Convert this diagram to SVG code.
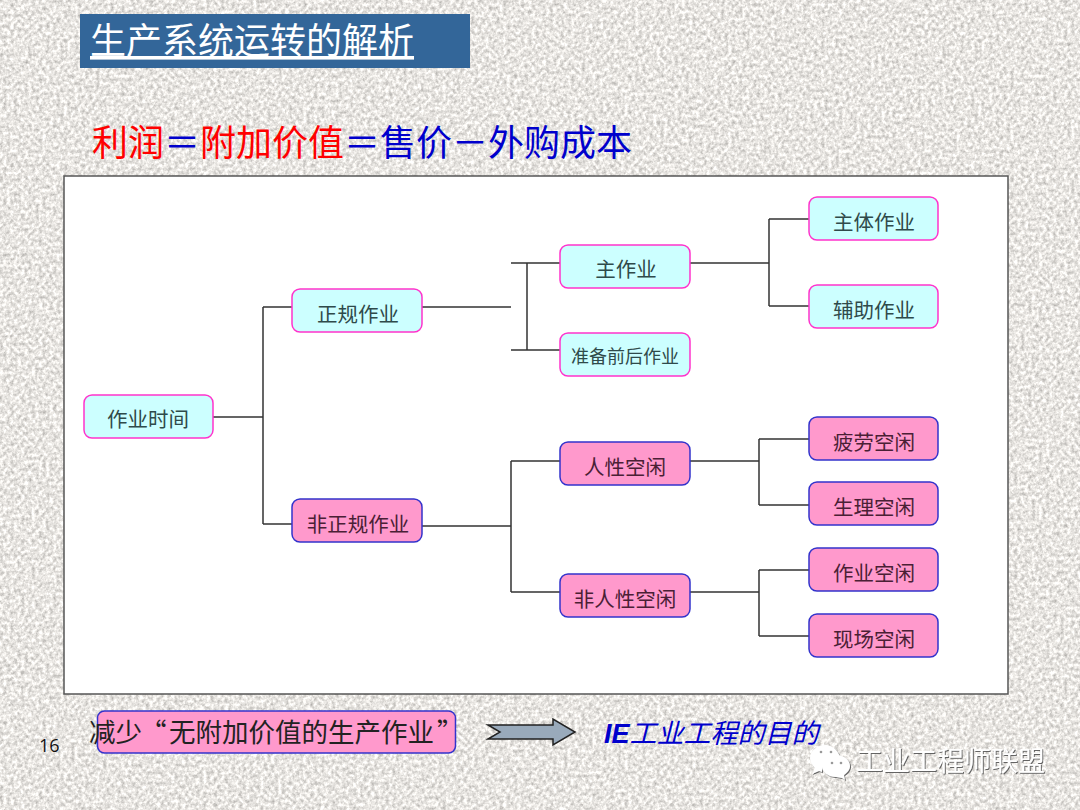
<svg xmlns="http://www.w3.org/2000/svg" width="1080" height="810" viewBox="0 0 1080 810">
<style>
text{font-family:"Noto Sans CJK SC","Liberation Sans",sans-serif}
.n rect{stroke-width:1.5}
.c rect{fill:#ccffff;stroke:#ff33cc}
.p rect{fill:#ff99cc;stroke:#3333cc}
.n text{font-size:20.500px;fill:#333;text-anchor:middle}
.c text{fill:#2f4a4a}
.p text{fill:#4a2035}
#connectors path{fill:none;stroke:#333;stroke-width:1.5}
</style>
<defs>
<filter id="tex2" x="0" y="0" width="100%" height="100%" color-interpolation-filters="sRGB">
<feTurbulence type="fractalNoise" baseFrequency="0.28" numOctaves="4" seed="9"/>
<feColorMatrix type="matrix" values="0.5 0 0 0 0.66  0.5 0 0 0 0.65  0.5 0 0 0 0.635  0 0 0 0 1"/>
</filter>
<filter id="sh" x="-10%" y="-20%" width="120%" height="140%">
<feDropShadow dx="1" dy="1" stdDeviation="0.6" flood-color="#555" flood-opacity="0.9"/>
</filter>
</defs>
<rect id="background" width="1080" height="810" fill="#d8d7d5" filter="url(#tex2)"/>

<g id="title">
<rect x="80" y="14" width="390" height="54" fill="#336699"/>
<text x="90" y="54" font-size="36" fill="#fff" text-decoration="underline">生产系统运转的解析</text>
</g>
<text id="formula" x="92" y="156" font-size="36" fill="#0000cc"><tspan fill="#ff0000">利润</tspan>＝<tspan fill="#ff0000">附加价值</tspan>＝售价－外购成本</text>

<rect id="panel" x="64" y="176" width="944" height="518" fill="#fff" stroke="#555" stroke-width="1.5"/>

<g id="connectors">
<path d="M213 417H263M263 307V524M263 307H292M263 524H292"/>
<path d="M422 307H511M511 263H560M511 350H560M527 263V350"/>
<path d="M690 263H769M769 219V306M769 219H809M769 306H809"/>
<path d="M422 526H511M511 461V592M511 461H560M511 592H560"/>
<path d="M690 461H759M759 439V505M759 439H809M759 505H809"/>
<path d="M690 592H759M759 570V636M759 570H809M759 636H809"/>
</g>

<g id="n1" class="n c"><rect x="84" y="395" width="129" height="43" rx="8"/><text x="148" y="427">作业时间</text></g>
<g id="n2" class="n c"><rect x="292" y="289" width="130" height="43" rx="8"/><text x="358" y="322">正规作业</text></g>
<g id="n3" class="n p"><rect x="292" y="499" width="130" height="43" rx="8"/><text x="358" y="532">非正规作业</text></g>
<g id="n4" class="n c"><rect x="560" y="245" width="130" height="43" rx="8"/><text x="626" y="277">主作业</text></g>
<g id="n5" class="n c"><rect x="560" y="333" width="130" height="43" rx="8"/><text x="625" y="363" style="font-size:18px">准备前后作业</text></g>
<g id="n6" class="n p"><rect x="560" y="442" width="130" height="43" rx="8"/><text x="625" y="475">人性空闲</text></g>
<g id="n7" class="n p"><rect x="560" y="574" width="130" height="43" rx="8"/><text x="625" y="607">非人性空闲</text></g>
<g id="n8" class="n c"><rect x="809" y="197" width="129" height="43" rx="8"/><text x="874" y="230">主体作业</text></g>
<g id="n9" class="n c"><rect x="809" y="285" width="129" height="43" rx="8"/><text x="874" y="318">辅助作业</text></g>
<g id="n10" class="n p"><rect x="809" y="417" width="129" height="43" rx="8"/><text x="874" y="450">疲劳空闲</text></g>
<g id="n11" class="n p"><rect x="809" y="482" width="129" height="43" rx="8"/><text x="874" y="515">生理空闲</text></g>
<g id="n12" class="n p"><rect x="809" y="548" width="129" height="43" rx="8"/><text x="874" y="581">作业空闲</text></g>
<g id="n13" class="n p"><rect x="809" y="614" width="129" height="43" rx="8"/><text x="874" y="647">现场空闲</text></g>

<g id="goal">
<rect x="97.500" y="711" width="358" height="42" rx="7" fill="#ff99cc" stroke="#3333cc" stroke-width="1.500"/>
<text x="89" y="742" font-size="26.500" fill="#222">减少<tspan x="140">“</tspan><tspan x="169">无附加价值的生产作业</tspan><tspan x="437">”</tspan></text>
</g>
<text id="page" x="39" y="752" font-size="18" fill="#111" style="font-family:'Open Sans',sans-serif">16</text>
<polygon id="arrow" points="488,725 553,725 553,719 575,732 553,745 553,739 488,739 500,732" fill="#99aabb" stroke="#222" stroke-width="1.500"/>
<text id="purpose" x="604" y="743" font-size="27" font-weight="700" font-style="italic" fill="#0000cc"><tspan font-family="Liberation Sans">IE</tspan><tspan font-weight="400">工业工程的目的</tspan></text>

<g id="watermark" filter="url(#sh)" fill="#fff">
<path d="M826 745c-9 0-16 6-16 13 0 4 2 7 5 10l-3 6 7-3 3 1c0-8 7-15 18-15-2-7-8-12-14-12z"/>
<path d="M836 755c-8 0-14 5-14 11s6 11 14 11l6 1 3 2-1-5c3-2 6-5 6-9 0-6-6-11-14-11z"/>
<circle cx="821" cy="752" r="1.300" fill="#999"/><circle cx="831" cy="752" r="1.300" fill="#999"/>
<circle cx="832" cy="763" r="1.300" fill="#999"/><circle cx="841" cy="763" r="1.300" fill="#999"/>
<text x="856" y="771" font-size="27">工业工程师联盟</text>
</g>
</svg>
